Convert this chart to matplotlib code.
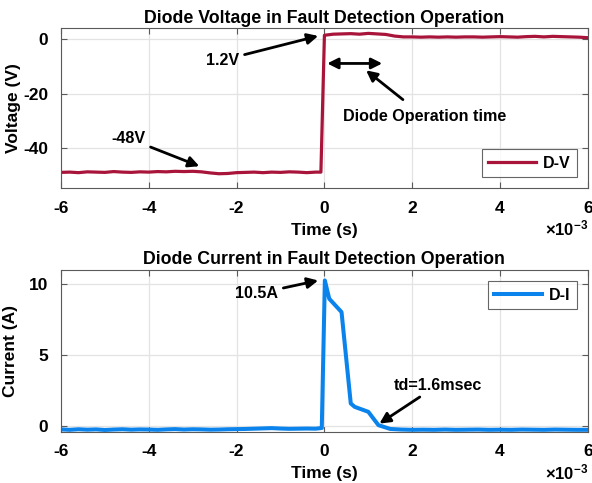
import numpy as np
import matplotlib
matplotlib.use('Agg')
import matplotlib.pyplot as plt

plt.rcParams['font.family'] = ['Liberation Sans', 'DejaVu Sans']
plt.rcParams['font.weight'] = 'bold'
plt.rcParams['axes.unicode_minus'] = False
plt.rcParams['mathtext.fontset'] = 'custom'
plt.rcParams['mathtext.rm'] = 'Liberation Sans'
plt.rcParams['mathtext.bf'] = 'Liberation Sans:bold'

# time in ms (axis shows x10^-3 s)
t_v_pre = np.round(np.arange(-6.0, -0.1, 0.2), 2)
v_pre = [-49.1, -49.0, -49.2, -48.9, -49.0, -49.1, -48.8, -49.0, -49.1, -48.9,
         -49.0, -48.8, -48.9, -48.7, -48.8, -48.7, -48.9, -49.3, -49.6, -49.5,
         -49.2, -49.1, -49.0, -49.2, -49.0, -49.1, -48.9, -49.0, -49.2, -49.0]
t_v_post = np.round(np.arange(0.0, 6.01, 0.2), 2)
v_post = [1.5, 1.9, 2.0, 2.1, 1.9, 2.2, 2.0, 1.8, 1.2, 0.9,
          0.9, 0.8, 0.9, 0.8, 0.9, 0.8, 0.9, 0.9, 0.8, 0.9,
          1.0, 0.9, 0.8, 1.0, 1.1, 0.9, 1.1, 1.0, 0.9, 0.8, 0.6]
t_volt = list(t_v_pre) + [-0.08] + list(t_v_post)
volt = v_pre + [-49.0] + v_post

t_i_pre = np.round(np.arange(-6.0, -0.1, 0.2), 2)
i_pre = [-0.25, -0.28, -0.24, -0.27, -0.25, -0.29, -0.26, -0.24, -0.27, -0.25,
         -0.26, -0.28, -0.25, -0.23, -0.26, -0.24, -0.25, -0.27, -0.26, -0.24,
         -0.23, -0.22, -0.20, -0.18, -0.16, -0.19, -0.21, -0.20, -0.19, -0.20]
t_i_pulse = [-0.06, 0.01, 0.11, 0.39, 0.60, 0.69, 1.00, 1.23, 1.50]
i_pulse = [-0.15, 10.26, 8.97, 8.03, 1.58, 1.34, 0.99, 0.05, -0.22]
t_i_post = np.round(np.arange(1.75, 6.01, 0.25), 2)
i_post = [-0.26, -0.28, -0.27, -0.28, -0.26, -0.28, -0.27, -0.26, -0.28,
          -0.27, -0.28, -0.26, -0.27, -0.28, -0.26, -0.27, -0.28, -0.28]
t_curr = list(t_i_pre) + t_i_pulse + list(t_i_post)
curr = i_pre + i_pulse + i_post[:len(t_i_post)]

xticks = [-6, -4, -2, 0, 2, 4, 6]

fig = plt.figure(figsize=(5.92, 4.83), dpi=100)
ax1 = fig.add_axes([0.103, 0.610, 0.890, 0.331])
ax2 = fig.add_axes([0.103, 0.106, 0.890, 0.335])


def style(ax):
    ax.set_xlim(-6, 6)
    ax.set_xticks(xticks)
    ax.set_xticklabels([str(x) for x in xticks])
    ax.grid(True, color='#e3e3e3', lw=0.9)
    ax.set_axisbelow(True)
    for s in ax.spines.values():
        s.set_color('#5a5a5a')
        s.set_linewidth(0.8)
    ax.tick_params(direction='in', top=True, right=True, length=4,
                   color='#5a5a5a', labelsize=12.5, pad=9)
    ax.set_xlabel('Time (s)', fontsize=12.5, fontweight='bold', labelpad=5)
    ax.annotate(r'$\times\mathbf{10^{-3}}$', xy=(1.0, 0.0),
                xycoords='axes fraction', xytext=(0, -29),
                textcoords='offset points', ha='right', va='center',
                fontsize=12)


style(ax1)
ax1.plot(t_volt, volt, color='#A8143A', lw=2.3, label='D-V')
ax1.set_ylim(-55, 4)
ax1.set_yticks([0, -20, -40])
ax1.set_ylabel('Voltage (V)', fontsize=12.5, fontweight='bold', labelpad=2)
ax1.set_title('Diode Voltage in Fault Detection Operation', fontsize=12.8,
              fontweight='bold', pad=4)
leg1 = ax1.legend(loc='lower right', fontsize=11.5, handlelength=3.0,
                  fancybox=False, edgecolor='#404040', borderaxespad=0.7,
                  handletextpad=0.4, borderpad=0.4)
leg1.get_frame().set_linewidth(0.8)

arr = dict(arrowstyle='-|>', color='black', lw=2.0, mutation_scale=16)
ax1.annotate('1.2V', xy=(-0.08, 1.5), xytext=(-2.32, -7.7), fontsize=11.6,
             fontweight='bold', ha='center', va='center', arrowprops=arr)
ax1.annotate('', xy=(0.0, -8.9), xytext=(1.38, -8.9),
             arrowprops=dict(arrowstyle='<|-|>', color='black', lw=2.0,
                             mutation_scale=16))
ax1.annotate('Diode Operation time', xy=(0.9, -10.8), xytext=(2.28, -28.6),
             fontsize=11.6, fontweight='bold', ha='center', va='center',
             arrowprops=dict(arr, shrinkA=8))
ax1.annotate('-48V', xy=(-2.79, -47.2), xytext=(-4.47, -36.5), fontsize=11.6,
             fontweight='bold', ha='center', va='center', arrowprops=arr)

style(ax2)
ax2.plot(t_curr, curr, color='#0A84EC', lw=2.9, label='D-I')
ax2.set_ylim(-0.42, 11)
ax2.set_yticks([0, 5, 10])
ax2.set_ylabel('Current (A)', fontsize=12.5, fontweight='bold', labelpad=8)
ax2.set_title('Diode Current in Fault Detection Operation', fontsize=12.8,
              fontweight='bold', pad=4)
leg2 = ax2.legend(loc='upper right', fontsize=11.5, handlelength=3.0,
                  fancybox=False, edgecolor='#404040', borderaxespad=0.7,
                  handletextpad=0.4, borderpad=0.4)
leg2.get_frame().set_linewidth(0.8)
ax2.annotate('10.5A', xy=(-0.08, 10.3), xytext=(-1.55, 9.32), fontsize=11.6,
             fontweight='bold', ha='center', va='center', arrowprops=arr)
ax2.annotate('td=1.6msec', xy=(1.2, 0.05), xytext=(2.58, 2.87), fontsize=11.6,
             fontweight='bold', ha='center', va='center', arrowprops=arr)

fig.savefig('out.png', dpi=100)
